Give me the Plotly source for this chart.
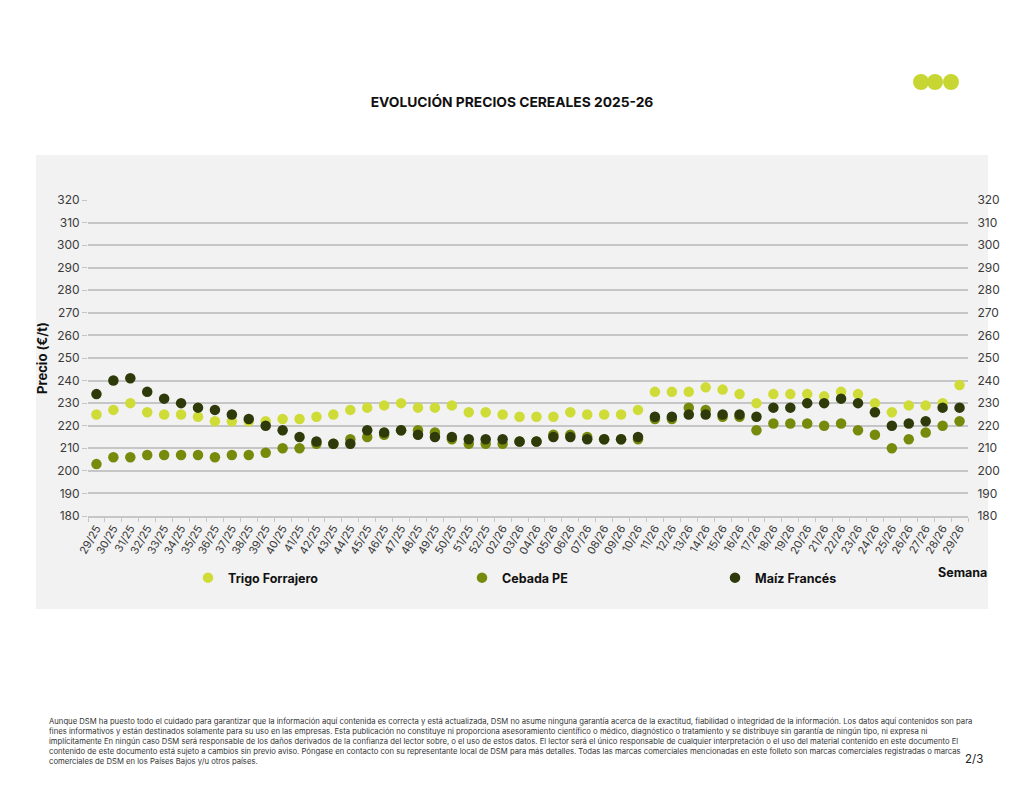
import plotly.graph_objects as go

W, H = 1024, 791

weeks = ["%02d/25" % w for w in range(29, 53)] + ["%02d/26" % w for w in range(2, 30)]

trigo = [225, 227, 230, 226, 225, 225, 224, 222, 222, 222, 222, 223, 223, 224, 225, 227,
         228, 229, 230, 228, 228, 229, 226, 226, 225, 224, 224, 224, 226, 225, 225, 225, 227,
         235, 235, 235, 237, 236, 234, 230, 234, 234, 234, 233, 235, 234, 230, 226, 229, 229, 230, 238]
cebada = [203, 206, 206, 207, 207, 207, 207, 206, 207, 207, 208, 210, 210, 212, 212, 214,
          215, 216, 218, 218, 217, 214, 212, 212, 212, 213, 213, 216, 216, 215, 214, 214, 214,
          223, 223, 228, 227, 224, 224, 218, 221, 221, 221, 220, 221, 218, 216, 210, 214, 217, 220, 222]
maiz = [234, 240, 241, 235, 232, 230, 228, 227, 225, 223, 220, 218, 215, 213, 212, 212,
        218, 217, 218, 216, 215, 215, 214, 214, 214, 213, 213, 215, 215, 214, 214, 214, 215,
        224, 224, 225, 225, 225, 225, 224, 228, 228, 230, 230, 232, 230, 226, 220, 221, 222, 228, 228]

series = [("Trigo Forrajero", trigo, "#cfdc38", "legend", 188),
          ("Cebada PE", cebada, "#778a0c", "legend2", 462),
          ("Maíz Francés", maiz, "#2f3a0b", "legend3", 715)]

tick_vals = list(range(180, 330, 10))

FONT = "Inter"
AXIS_COL = "#3a3a3a"
GRID_COL = "#c6c6c6"


def px(x):
    return x / W


def py(y):
    return 1 - y / H


fig = go.Figure()

for name, vals, col, leg, _ in series:
    fig.add_trace(go.Scatter(x=weeks, y=vals, name=name, mode="markers", legend=leg,
                             marker=dict(color=col, size=10.5, line=dict(width=0))))

# invisible copy so the right-hand axis gets drawn
fig.add_trace(go.Scatter(x=weeks, y=trigo, yaxis="y2", mode="markers", showlegend=False,
                         hoverinfo="skip", marker=dict(opacity=0)))

legends = {}
for i, (name, vals, col, leg, lx) in enumerate(series):
    key = "legend" if i == 0 else "legend%d" % (i + 1)
    legends[key] = dict(x=px(lx), y=py(578), xanchor="left", yanchor="middle",
                        orientation="h", bgcolor="rgba(0,0,0,0)", itemwidth=30,
                        font=dict(family=FONT, size=12.5, color="#111111", weight="bold"))

fig.update_layout(
    width=W, height=H,
    margin=dict(l=0, r=0, t=0, b=0),
    paper_bgcolor="white",
    plot_bgcolor="rgba(0,0,0,0)",
    showlegend=True,
    **legends,
    title=dict(text="<b>EVOLUCIÓN PRECIOS CEREALES 2025-26</b>", x=0.5, xanchor="center",
               y=py(102), yanchor="middle", automargin=False,
               font=dict(family=FONT, size=13.8, color="#111111")),
    xaxis=dict(domain=[px(88), px(968)], type="category", range=[-0.5, len(weeks) - 0.5],
               tickangle=-60, tickfont=dict(family=FONT, size=11, color=AXIS_COL),
               showline=True, linecolor=GRID_COL, linewidth=1.5, automargin=False,
               ticks="outside", ticklen=4, tickcolor=GRID_COL, tickson="boundaries",
               showgrid=False, anchor="y"),
    yaxis=dict(domain=[py(516), py(200)], range=[180, 320], tickvals=tick_vals,
               tickfont=dict(family=FONT, size=12, color=AXIS_COL), automargin=False,
               showgrid=True, gridcolor=GRID_COL, gridwidth=1.5, zeroline=False,
               ticks="outside", ticklen=5, tickcolor=GRID_COL,
               title=dict(text="<b>Precio (€/t)</b>", standoff=6,
                          font=dict(family=FONT, size=13, color="#111111"))),
    yaxis2=dict(overlaying="y", side="right", range=[180, 320], tickvals=tick_vals,
                tickfont=dict(family=FONT, size=12, color=AXIS_COL), showgrid=False,
                automargin=False, zeroline=False, ticks="outside", ticklen=6,
                tickcolor="rgba(0,0,0,0)", anchor="x"),
)

# grey panel behind the chart
fig.add_shape(type="rect", xref="paper", yref="paper", x0=px(36), x1=px(988), y0=py(609), y1=py(155),
              fillcolor="#f2f2f2", line=dict(width=0), layer="below")

# logo dots
for cx in [921, 935, 951]:
    fig.add_shape(type="circle", xref="paper", yref="paper", x0=px(cx - 8), x1=px(cx + 8),
                  y0=py(90), y1=py(74), fillcolor="#c8d634", line=dict(width=0))

fig.add_annotation(text="<b>Semana</b>", xref="paper", yref="paper", x=px(962), y=py(572),
                   showarrow=False, xanchor="center", yanchor="middle",
                   font=dict(family=FONT, size=12.5, color="#111111"))

disclaimer = (
    "Aunque DSM ha puesto todo el cuidado para garantizar que la información aquí contenida es correcta y está actualizada, DSM no asume ninguna garantía acerca de la exactitud, fiabilidad o integridad de la información. Los datos aquí contenidos son para<br>"
    "fines informativos y están destinados solamente para su uso en las empresas. Esta publicación no constituye ni proporciona asesoramiento científico o médico, diagnóstico o tratamiento y se distribuye sin garantía de ningún tipo, ni expresa ni<br>"
    "implícitamente En ningún caso DSM será responsable de los daños derivados de la confianza del lector sobre, o el uso de estos datos. El lector será el único responsable de cualquier interpretación o el uso del material contenido en este documento El<br>"
    "contenido de este documento está sujeto a cambios sin previo aviso. Póngase en contacto con su representante local de DSM para más detalles. Todas las marcas comerciales mencionadas en este folleto son marcas comerciales registradas o marcas<br>"
    "comerciales de DSM en los Países Bajos y/u otros países."
)
fig.add_annotation(text=disclaimer, xref="paper", yref="paper", x=px(47), y=py(715),
                   showarrow=False, xanchor="left", yanchor="top", align="left",
                   font=dict(family=FONT, size=7.7, color="#333333"))

fig.add_annotation(text="2/3", xref="paper", yref="paper", x=px(974), y=py(759),
                   showarrow=False, xanchor="center", yanchor="middle",
                   font=dict(family=FONT, size=11.5, color="#222222"))

fig.write_html("out.html", config={"displayModeBar": False},
               post_script="document.body.style.margin='0';")
